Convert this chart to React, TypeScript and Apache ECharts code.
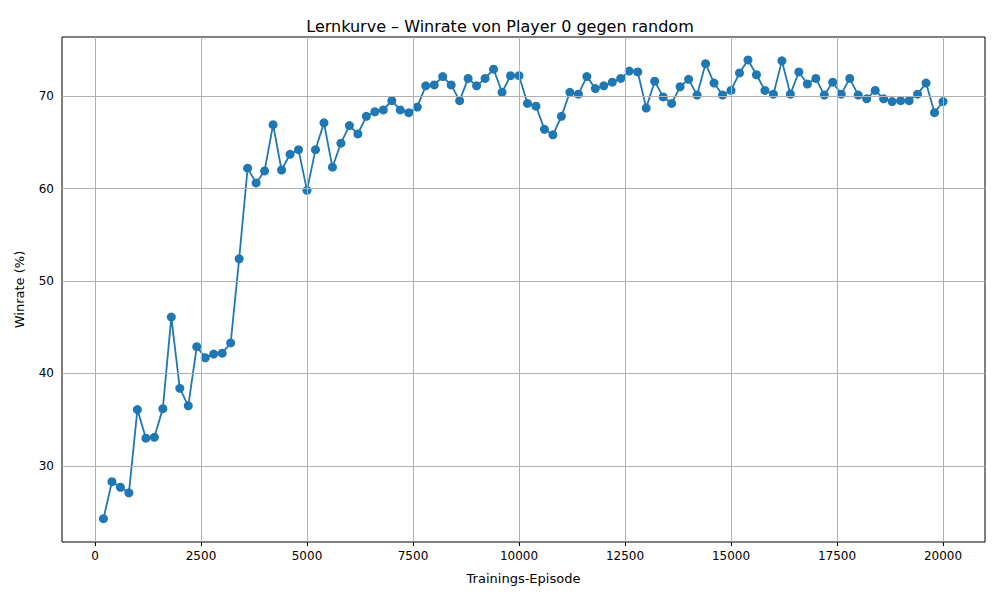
import React, { useEffect, useRef } from "react";
import * as echarts from "echarts";

const episodes: number[] = Array.from({ length: 100 }, (_, i) => (i + 1) * 200);
const winrate: number[] = [
  24.3, 28.3, 27.7, 27.1, 36.1, 33.0, 33.1, 36.2, 46.1, 38.4,
  36.5, 42.9, 41.7, 42.1, 42.2, 43.3, 52.4, 62.2, 60.6, 61.9,
  66.9, 62.0, 63.7, 64.2, 59.8, 64.2, 67.1, 62.3, 64.9, 66.8,
  65.9, 67.8, 68.3, 68.5, 69.5, 68.5, 68.2, 68.8, 71.1, 71.2,
  72.1, 71.2, 69.5, 71.9, 71.1, 71.9, 72.9, 70.4, 72.2, 72.2,
  69.2, 68.9, 66.4, 65.8, 67.8, 70.4, 70.2, 72.1, 70.8, 71.1,
  71.5, 71.9, 72.7, 72.6, 68.7, 71.6, 69.9, 69.2, 71.0, 71.8,
  70.1, 73.5, 71.4, 70.1, 70.6, 72.5, 73.9, 72.3, 70.6, 70.2,
  73.8, 70.2, 72.6, 71.3, 71.9, 70.1, 71.5, 70.2, 71.9, 70.1,
  69.7, 70.6, 69.7, 69.4, 69.5, 69.5, 70.2, 71.4, 68.2, 69.4,
];
const xTicks: number[] = [0, 2500, 5000, 7500, 10000, 12500, 15000, 17500, 20000];
const yTicks: number[] = [30, 40, 50, 60, 70];

export default function App() {
  const ref = useRef<HTMLDivElement>(null);
  useEffect(() => {
    const chart = echarts.init(ref.current!, null, { renderer: "svg" });
    const font = "DejaVu Sans";
    const grid = { lineStyle: { color: "#b0b0b0", width: 1, type: "solid" as const } };
    chart.setOption({
      animation: false,
      textStyle: { fontFamily: font },
      title: {
        text: "Lernkurve – Winrate von Player 0 gegen random",
        left: "center", top: 13,
        textStyle: { fontFamily: font, fontSize: 16, fontWeight: "normal", color: "#000" },
      },
      grid: { left: 62, right: 15, top: 37, bottom: 58, show: true, borderColor: "#000", borderWidth: 1 },
      xAxis: {
        type: "value", min: -778, max: 20990,
        name: "Trainings-Episode", nameLocation: "middle", nameGap: 30,
        nameTextStyle: { fontFamily: font, fontSize: 13, color: "#000" },
        axisLine: { show: false },
        axisTick: { show: true, customValues: xTicks, length: 4, lineStyle: { color: "#000" } },
        axisLabel: { customValues: xTicks, formatter: (v: number) => String(v), fontFamily: font, fontSize: 12, color: "#000", margin: 8 },
        splitLine: { show: false },
      },
      yAxis: {
        type: "value", min: 21.78, max: 76.38,
        name: "Winrate (%)", nameLocation: "middle", nameGap: 36,
        nameTextStyle: { fontFamily: font, fontSize: 13, color: "#000" },
        axisLine: { show: false },
        axisTick: { show: true, customValues: yTicks, length: 4, lineStyle: { color: "#000" } },
        axisLabel: { customValues: yTicks, formatter: (v: number) => String(v), fontFamily: font, fontSize: 12, color: "#000", margin: 8 },
        splitLine: { show: false },
      },
      series: [
        {
          type: "line", z: 1, silent: true, data: [], symbol: "none",
          markLine: {
            silent: true, symbol: "none", label: { show: false }, ...grid,
            data: [...xTicks.map((x) => ({ xAxis: x })), ...yTicks.map((y) => ({ yAxis: y }))],
          },
        },
        {
          type: "line", z: 3,
          data: episodes.map((e, i) => [e, winrate[i]]),
          symbol: "circle", symbolSize: 9,
          itemStyle: { color: "#1f77b4" },
          lineStyle: { color: "#1f77b4", width: 1.8 },
        },
      ],
    });
    return () => chart.dispose();
  }, []);
  return <div ref={ref} style={{ width: 1000, height: 600, margin: -8 }} />;
}
